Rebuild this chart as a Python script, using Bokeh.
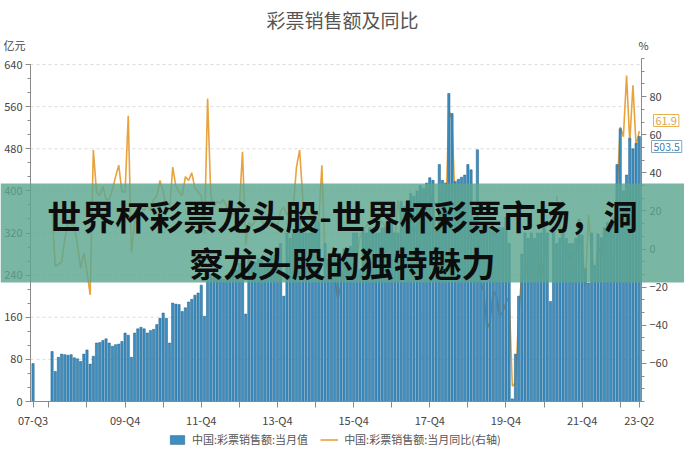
import numpy as np
from bokeh.plotting import figure
from bokeh.models import (Range1d, LinearAxis, FixedTicker, Legend, LegendItem,
                          Label, BoxAnnotation, ColumnDataSource)
from bokeh.embed import file_html
from bokeh.resources import INLINE

# ---------------- data ----------------
months = []
for yr in range(2007, 2024):
    for mo in range(1, 13):
        if (2007, 7) <= (yr, mo) <= (2023, 6):
            months.append(f"{yr}-{mo:02d}")

# monthly lottery sales (亿元), Jul-2007 .. Jun-2023
sales_2007 = [72, None, None, None, None, None]
sales_2008 = [95, 57, 84, 90, 89, 88, 89, 83, 81, 76, 90, 98]
sales_2009 = [71, 86, 111, 112, 116, 119, 111, 105, 108, 109, 114, 130]
sales_2010 = [126, 84, 130, 138, 141, 138, 130, 135, 137, 146, 158, 168]
sales_2011 = [158, 111, 187, 185, 184, 171, 178, 189, 194, 202, 206, 221]
sales_2012 = [162, 230, 240, 235, 238, 236, 232, 240, 238, 245, 250, 262]
sales_2013 = [262, 166, 270, 262, 265, 270, 268, 262, 270, 275, 278, 290]
sales_2014 = [300, 200, 320, 310, 320, 373, 360, 330, 320, 320, 330, 345]
sales_2015 = [340, 230, 300, 270, 280, 280, 270, 275, 290, 290, 295, 320]
sales_2016 = [320, 250, 330, 320, 330, 330, 320, 320, 330, 330, 335, 360]
sales_2017 = [320, 320, 380, 370, 380, 395, 390, 400, 410, 405, 415, 425]
sales_2018 = [420, 330, 450, 420, 415, 585, 547, 418, 422, 426, 430, 450]
sales_2019 = [440, 350, 478, 340, 330, 340, 330, 330, 320, 330, 330, 350]
sales_2020 = [300, 5, 90, 200, 280, 320, 310, 320, 310, 320, 320, 330]
sales_2021 = [320, 190, 330, 300, 310, 320, 310, 300, 300, 310, 346, 316]
sales_2022 = [252, 225, 320, 258, 318, 311, 330, 340, 330, 350, 450, 518]
sales_2023 = [400, 430, 500, 480, 490, 503.5]

# year-on-year change (%), right axis
yoy_2007 = [None, None, None, None, None, None]
yoy_2008 = [19, -9, -8, -7, 5, 14, 13, 12, 2, -10, -2, -12]
yoy_2009 = [-24, 52, 30, 28, 33, 26, 26, 31, 38, 44, 30, 30]
yoy_2010 = [70, -2, 14, 18, 22, 20, 24, 20, 26, 28, 36, 30]
yoy_2011 = [22, 20, 43, 33, 30, 28, 38, 36, 40, 32, 30, 28]
yoy_2012 = [8, 79, 28, 22, 25, 24, 26, 22, 20, 18, 20, 22]
yoy_2013 = [51, 2, 14, 12, 15, 16, 15, 12, 13, 14, 14, 12]
yoy_2014 = [20, 22, 18, 19, 22, 43, 52, 26, 20, 18, 18, 16]
yoy_2015 = [14, 44, -6, -12, -13, -15, -26, -19, -10, -9, -10, -7]
yoy_2016 = [-5, 6, 10, 12, 14, 16, 18, 16, 14, 12, 10, 12]
yoy_2017 = [2, 26, 12, 13, 10, 12, 9, 12, 14, 10, 8, 22]
yoy_2018 = [30, 2, 20, 16, 14, 73, 68, 22, 18, 24, 20, 18]
yoy_2019 = [4, 6, 9, -18, -22, -42, -38, -22, -25, -35, -33, -28]
yoy_2020 = [-25, -72, -70, -35, -12, -15, -5, -3, 0, -3, -17, -5]
yoy_2021 = [7, None, None, 28, 12, 2, 0, -6, -3, -3, 8, 0]
yoy_2022 = [-20, 18, -3, -14, 2, -3, 6, 13, 10, 13, 30, 64]
yoy_2023 = [59, 91, 56, 86, 54, 61.9]

tick_months = ["2007-07", "2009-12", "2011-12", "2013-12", "2015-12",
               "2017-12", "2019-12", "2021-12", "2023-06"]
tick_labels = ["07-Q3", "09-Q4", "11-Q4", "13-Q4", "15-Q4",
               "17-Q4", "19-Q4", "21-Q4", "23-Q2"]

left_ticks = [0, 80, 160, 240, 320, 400, 480, 560, 640]
right_ticks = [-60, -40, -20, 0, 20, 40, 60, 80]

title_text = "彩票销售额及同比"
left_unit = "亿元"
right_unit = "%"
series_names = ["中国:彩票销售额:当月值", "中国:彩票销售额:当月同比(右轴)"]
last_labels = ["61.9", "503.5"]
banner_lines = ["世界杯彩票龙头股-世界杯彩票市场，洞", "察龙头股的独特魅力"]

sales = (sales_2007 + sales_2008 + sales_2009 + sales_2010 + sales_2011 + sales_2012 +
         sales_2013 + sales_2014 + sales_2015 + sales_2016 + sales_2017 + sales_2018 +
         sales_2019 + sales_2020 + sales_2021 + sales_2022 + sales_2023)
yoy = (yoy_2007 + yoy_2008 + yoy_2009 + yoy_2010 + yoy_2011 + yoy_2012 + yoy_2013 +
       yoy_2014 + yoy_2015 + yoy_2016 + yoy_2017 + yoy_2018 + yoy_2019 + yoy_2020 +
       yoy_2021 + yoy_2022 + yoy_2023)

idx = list(range(len(months)))
src = ColumnDataSource(dict(
    x=idx,
    sales=np.array(sales, dtype=float),
    yoy=np.array(yoy, dtype=float),
))
grid_src = ColumnDataSource(dict(y=left_ticks[1:]))

# ---------------- layout geometry (page pixels) ----------------
W, H = 684, 473
FONT = "Noto Sans CJK SC"
XA, XB = -0.8, len(months) - 0.3          # data x of left / right axis
PX_A, PX_B = 30, 641                      # their page x
kx = (PX_B - PX_A) / (XB - XA)
X0, X1 = XA - PX_A / kx, XB + (W - PX_B) / kx

PY_0, PY_640 = 401, 64                    # page y of left 0 / 640
ky = (PY_0 - PY_640) / 640
Y0, Y1 = -(H - PY_0) / ky, 640 + PY_640 / ky

PY_M80, PY_100 = 401, 58                  # page y of right -80 / 100
kr = (PY_M80 - PY_100) / 180
R0, R1 = -80 - (H - PY_M80) / kr, 100 + PY_100 / kr

def dx(px):
    return X0 + px / W * (X1 - X0)

def dy(py):
    return Y1 - py / H * (Y1 - Y0)

p = figure(width=W, height=H, output_backend="svg", toolbar_location=None,
           title=None, x_range=Range1d(X0, X1), y_range=Range1d(Y0, Y1),
           min_border=0)
p.outline_line_color = None
p.background_fill_color = "white"
p.border_fill_color = "white"
p.extra_y_ranges = {"pct": Range1d(R0, R1)}

# dashed horizontal grid within the plotting area
p.segment(x0=XA, x1=XB, y0="y", y1="y", source=grid_src,
          line_color="#dddddd", line_dash="3 3", line_width=1)

line = p.line("x", "yoy", source=src, y_range_name="pct",
              line_color="#e8a33d", line_width=1.6)
bars = p.vbar(x="x", top="sales", width=0.72, source=src,
              fill_color="#3d8fc2", line_color="#1f5f86", line_width=0.5)

# axes (drawn at fixed data locations)
AX_COLOR = "#8a8a8a"
LBL_COLOR = "#444444"
p.xgrid.visible = False
p.ygrid.visible = False

yl = p.yaxis[0]
yl.ticker = FixedTicker(ticks=left_ticks,
                        minor_ticks=[i * 80 / 3 for i in range(0, 25)])
yl.bounds = (0, 640)
yl.fixed_location = XA

yr_axis = LinearAxis(y_range_name="pct",
                     ticker=FixedTicker(ticks=right_ticks,
                                        minor_ticks=[-80 + i * 20 / 3 for i in range(0, 28)]),
                     bounds=(-80, 100), fixed_location=XB)
p.add_layout(yr_axis, "right")

xa = p.xaxis[0]
dec_ticks = [i for i, m in enumerate(months) if m.endswith("-12")]
lab_ticks = [months.index(m) for m in tick_months]
xa.ticker = FixedTicker(ticks=sorted(set(dec_ticks + lab_ticks)), minor_ticks=[])
overrides = {t: "" for t in dec_ticks}
for t, l in zip(lab_ticks, tick_labels):
    overrides[t] = l
xa.major_label_overrides = overrides
xa.bounds = (XA, XB)
xa.fixed_location = 0

for ax in (yl, yr_axis, xa):
    ax.axis_line_color = AX_COLOR
    ax.major_tick_line_color = AX_COLOR
    ax.minor_tick_line_color = AX_COLOR
    ax.major_label_text_color = LBL_COLOR
    ax.major_label_text_font = FONT
    ax.major_label_text_font_size = "11px"
    ax.major_tick_out = 5
    ax.major_tick_in = 0
    ax.minor_tick_out = 3
    ax.minor_tick_in = 0
    ax.major_label_standoff = 3
xa.major_tick_out = 6
xa.major_label_standoff = 4

# legend
legend = Legend(items=[LegendItem(label=series_names[0], renderers=[bars]),
                       LegendItem(label=series_names[1], renderers=[line])],
                orientation="horizontal", location=(168, 26),
                label_text_font=FONT, label_text_font_size="11px",
                label_text_color="#555555", border_line_color=None,
                background_fill_alpha=0, glyph_width=18, glyph_height=11,
                spacing=12, padding=2, margin=0, label_standoff=6)
p.add_layout(legend)

def add_text(px, py, text, size, color, align="center", bold=False, **kw):
    p.add_layout(Label(x=dx(px), y=dy(py), text=text, text_align=align,
                       text_baseline="middle", text_font=FONT,
                       text_font_size=size, text_color=color,
                       text_font_style="bold" if bold else "normal", **kw))

add_text(342, 19, title_text, "19px", "#555555")
add_text(3, 44, left_unit, "11px", "#444444", align="left")
add_text(643, 44, right_unit, "11px", "#444444")

# last-value callouts
add_text(653, 120, last_labels[0], "11px", "#d9a44a", align="left",
         background_fill_color="white", border_line_color="#e8b04f", padding=2)
add_text(651, 146, last_labels[1], "10.5px", "#3f7fa9", align="left",
         background_fill_color="white", border_line_color="#7fa9c2", padding=2)

# banner overlay
p.add_layout(BoxAnnotation(left=X0, right=X1, top=dy(183), bottom=dy(282),
                           fill_color="#5da690", fill_alpha=0.82, line_color=None,
                           level="overlay"))
add_text(342, 215, banner_lines[0], "34px", "#0d0d0d", bold=True, level="overlay")
add_text(342, 262, banner_lines[1], "34px", "#0d0d0d", bold=True, level="overlay")

open("out.html", "w").write(file_html(p, INLINE))
